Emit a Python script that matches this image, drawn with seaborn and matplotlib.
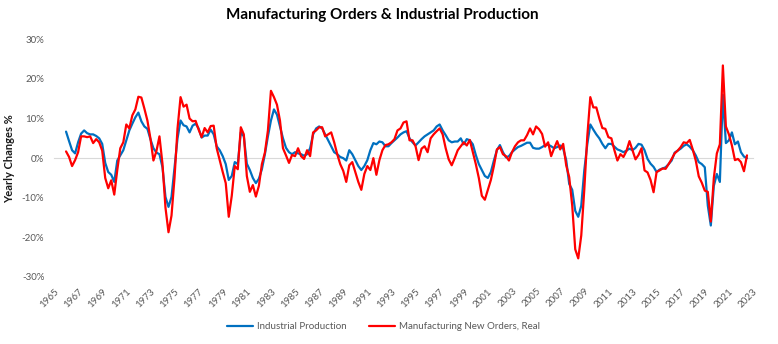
import numpy as np
import pandas as pd
import matplotlib
matplotlib.use("Agg")
import matplotlib.pyplot as plt
import seaborn as sns

# Year-over-year % changes, quarterly from Q1 1966
industrial_production = [
    6.7, 4.3, 2.0, 1.2, 4.0, 6.2, 7.0, 6.3, 6.0, 6.0, 5.6, 5.0, 3.6, -1.2, -3.5, -4.2,
    -6.0, -0.6, 0.7, 2.0, 4.5, 7.0, 8.7, 10.3, 11.5, 9.3, 8.0, 7.4, 4.8, 2.5, 1.4, 1.0,
    -2.3, -9.8, -12.3, -9.8, -2.5, 5.0, 9.5, 8.3, 8.0, 6.5, 8.2, 8.7, 7.5, 5.2, 5.7, 5.7,
    7.2, 6.0, 3.0, 2.0, 0.5, -1.5, -5.5, -4.5, -1.0, -1.5, 6.5, 5.5, -1.4, -3.0, -5.0, -6.3,
    -5.2, -2.8, 1.0, 5.5, 9.5, 12.3, 11.0, 8.0, 5.0, 2.6, 1.5, 1.0, 1.5, 1.2, 1.0, 0.6,
    1.0, 2.5, 6.0, 7.5, 8.0, 7.5, 6.0, 4.5, 3.0, 1.5, 1.0, 0.3, 0.0, -0.6, 2.0, 1.0,
    -0.5, -2.0, -3.0, -2.0, -0.5, 2.0, 3.8, 3.5, 4.2, 4.0, 3.0, 3.0, 3.8, 4.5, 5.2, 6.0,
    6.5, 6.8, 5.0, 4.0, 3.2, 4.0, 4.8, 5.5, 6.0, 6.5, 7.0, 8.0, 8.5, 7.0, 5.8, 4.5,
    4.0, 4.2, 4.2, 5.0, 3.5, 4.8, 4.5, 3.5, 0.8, -1.5, -3.0, -4.5, -5.0, -3.5, -0.6, 2.0,
    3.3, 1.5, 0.2, 0.5, 1.5, 2.2, 2.8, 3.1, 3.5, 3.9, 3.9, 2.6, 2.4, 2.4, 2.8, 3.3,
    3.4, 3.0, 2.5, 2.8, 3.2, 2.4, -0.5, -6.5, -8.0, -13.3, -14.8, -12.0, -3.1, 3.5, 8.5, 7.2,
    6.0, 5.0, 3.6, 2.5, 3.6, 3.6, 2.9, 2.2, 1.9, 1.5, 1.9, 2.4, 2.0, 2.6, 3.6, 3.4,
    2.0, -0.2, -1.4, -2.2, -3.5, -2.9, -2.6, -2.3, -1.5, -0.6, 1.4, 1.9, 2.4, 3.1, 3.5, 2.9,
    2.0, 0.7, -1.0, -1.5, -2.3, -12.0, -17.0, -7.0, -4.0, -6.0, 16.0, 3.8, 4.5, 6.5, 3.5, 4.2,
    1.5, 0.4, 0.0,
]
mfg_new_orders_real = [
    1.7, 0.3, -2.0, -0.5, 1.5, 5.5, 5.5, 5.3, 5.5, 3.8, 4.8, 4.0, 1.9, -5.0, -7.6, -5.6,
    -9.2, -3.0, 2.5, 4.0, 8.5, 7.5, 10.8, 12.3, 15.5, 15.3, 12.5, 9.5, 5.0, -0.6, 1.8, 5.5,
    -1.4, -12.5, -18.7, -14.5, -5.0, 7.5, 15.4, 13.0, 13.5, 10.0, 9.3, 9.4, 7.2, 5.3, 7.6, 6.5,
    8.1, 8.2, 2.5, -0.5, -3.5, -6.3, -14.8, -9.5, -2.0, -2.8, 7.8, 6.0, -4.5, -8.5, -6.8, -9.7,
    -7.0, -1.5, 1.4, 7.0, 17.0, 15.4, 13.5, 9.5, 2.5, 0.7, -1.2, 0.8, 0.5, 2.5, 0.5, -0.2,
    2.0, 0.5, 6.5, 7.0, 7.8, 7.8, 5.5, 6.0, 6.5, 4.0, 1.0, -1.5, -3.2, -6.0, -1.8, -1.0,
    -3.5, -6.0, -8.0, -4.0, -2.0, -3.0, 0.0, -4.2, -0.5, 2.0, 3.3, 3.5, 4.0, 4.8, 7.0, 7.5,
    9.0, 9.3, 4.5, 4.5, 3.0, -0.5, 2.4, 3.0, 1.5, 5.0, 6.0, 6.8, 7.5, 6.0, 2.5, -0.3,
    -1.8, 0.0, 2.0, 3.0, 4.0, 3.2, 4.6, 1.5, -1.5, -5.0, -9.5, -10.5, -8.0, -5.5, -2.0, 2.2,
    2.8, 1.0, 0.5, -0.6, 1.5, 3.0, 4.0, 4.5, 4.5, 5.8, 7.5, 6.0, 8.0, 7.3, 6.1, 2.9,
    4.0, 0.5, 2.5, 4.3, 2.2, 3.6, -1.8, -4.8, -12.0, -23.0, -25.3, -19.5, -8.0, 5.5, 15.4, 12.8,
    12.8, 10.0, 7.6, 7.4, 5.3, 5.0, 2.0, -0.6, 1.0, 0.3, 1.8, 4.3, 2.0, -0.3, 0.8, 2.5,
    -3.1, -3.6, -5.5, -8.6, -3.5, -3.1, -2.6, -2.7, -1.5, -0.2, 1.2, 1.9, 2.8, 4.0, 3.8, 4.6,
    2.2, -0.6, -4.6, -6.2, -8.2, -8.5, -16.0, -5.0, 1.2, 3.5, 23.4, 8.0, 6.0, 3.2, -0.5, -0.2,
    -1.0, -3.3, 0.7,
]
series_names = ["Industrial Production", "Manufacturing New Orders, Real"]
series_colors = ["#0070C0", "#FF0000"]
first_year = 1966
tick_years = list(range(1965, 2024, 2))
y_ticks = [-30, -20, -10, 0, 10, 20, 30]

n = len(industrial_production)
quarter_time = first_year + np.arange(n) / 4.0

df = pd.DataFrame({
    "time": np.concatenate([quarter_time, quarter_time]),
    "change": industrial_production + mfg_new_orders_real,
    "series": [series_names[0]] * n + [series_names[1]] * len(mfg_new_orders_real),
})

sns.set_style("white")
plt.rcParams["font.family"] = ["Lato", "DejaVu Sans"]

W, H = 778, 344
fig = plt.figure(figsize=(W / 100, H / 100), dpi=100)
ax_left, ax_right, ax_top, ax_bottom = 54, 753, 39.3, 277
ax = fig.add_axes([ax_left / W, 1 - ax_bottom / H,
                   (ax_right - ax_left) / W, (ax_bottom - ax_top) / H])

sns.lineplot(data=df, x="time", y="change", hue="series",
             hue_order=series_names, palette=dict(zip(series_names, series_colors)),
             linewidth=1.6, ax=ax, sort=True)

ax.set_xlim(1965, 2023)
ax.set_ylim(-30, 30)
ax.set_xlabel("")
ax.set_ylabel("Yearly Changes %", fontsize=8, fontweight="bold", color="#1a1a1a")
ax.yaxis.set_label_coords(-0.055, 0.5)

for side in ["top", "right", "left"]:
    ax.spines[side].set_visible(False)
# horizontal axis crosses at zero, with short tick marks
ax.spines["bottom"].set_position(("data", 0))
ax.spines["bottom"].set_color("#d9d9d9")
ax.spines["bottom"].set_linewidth(0.8)
ax.spines["bottom"].set_zorder(1)
ax.set_xticks(tick_years)
ax.tick_params(axis="x", direction="out", length=3, width=0.8, color="#d9d9d9",
               labelbottom=False)

ax.set_yticks(y_ticks, labels=[f"{v}%" for v in y_ticks])
ax.tick_params(axis="y", length=0, pad=7, labelsize=7, labelcolor="#595959")

# year labels along the bottom edge
sec = ax.secondary_xaxis("bottom")
sec.set_xticks(tick_years, labels=[str(y) for y in tick_years])
sec.spines["bottom"].set_visible(False)
sec.tick_params(length=0, pad=7, labelsize=7, labelcolor="#595959")
for lbl in sec.get_xticklabels():
    lbl.set_rotation(45)
    lbl.set_ha("right")
    lbl.set_rotation_mode("anchor")

sns.move_legend(ax, "center", bbox_to_anchor=(383.5 / W, 1 - 326.7 / H),
                bbox_transform=fig.transFigure, ncol=2, frameon=False, title=None,
                fontsize=7, handlelength=2.6, handletextpad=0.4, columnspacing=2.4,
                labelcolor="#595959")

fig.text(382.5 / W, 1 - 15.5 / H, "Manufacturing Orders & Industrial Production",
         ha="center", va="center", fontsize=11, fontweight="bold", color="black")

fig.savefig("out.png", dpi=100, facecolor="white")
